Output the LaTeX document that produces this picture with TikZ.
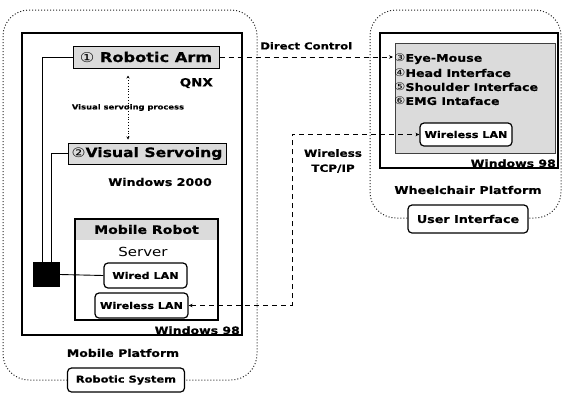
\documentclass[tikz,border=0pt]{standalone}
\usepackage{fontspec}
\setmainfont{DejaVu Sans}[FakeStretch=1.2,BoldFeatures={FakeBold=0.5}]
\usepackage{tikz}
\usetikzlibrary{arrows.meta, positioning, calc}

\newcommand{\fsz}[1]{\fontsize{#1}{#1}\selectfont}

\begin{document}
\begin{tikzpicture}[x=1pt,y=-1pt]
\tikzset{
  grp/.style={draw=black!85,dotted,line width=1pt,rounded corners=26pt,inner sep=0pt},
  pf/.style={draw,line width=1.2pt,inner sep=0pt},
  gb/.style={draw,line width=1pt,fill=black!14,inner sep=0pt},
  lan/.style={draw,line width=1.2pt,rounded corners=4pt,fill=white,inner sep=0pt,font=\bfseries\fsz{9.3}},
  tg/.style={draw,line width=1.2pt,rounded corners=4pt,fill=white,inner sep=0pt,font=\bfseries\fsz{10}},
  ln/.style={line width=0.9pt},
  dl/.style={line width=0.8pt,dash pattern=on 5pt off 4pt},
  tip/.style={-{Stealth[length=4pt,width=3.5pt]}},
  lb/.style={inner sep=1pt,font=\bfseries\fsz{#1}}
}
\useasboundingbox (0,0) rectangle (562,392);

% robotic system (left)
\node[grp,minimum width=254,minimum height=370] (rs) at (130,195) {};
\node[pf,minimum width=220,minimum height=302] (mp) at (132,184) {};
\node[gb,minimum width=146,minimum height=22,font=\bfseries\fsz{13.5}] (arm) at (146,57) {{\mdseries ①} Robotic Arm};
\node[lb=11.2,anchor=east] (qnx) at (214,83) {QNX};
\node[gb,minimum width=158,minimum height=21,font=\bfseries\fsz{13}] (vs) at (147,153.5) {{\mdseries ②}Visual Servoing};
\node[lb=10.5,anchor=east] (w2k) at (213,182) {Windows 2000};
\node[fill=black!14,minimum width=143,minimum height=21,inner sep=0pt,font=\bfseries\fsz{11.7}] (mrh) at (146.5,229.5) {Mobile Robot};
\node[pf,minimum width=143,minimum height=101] (mr) at (146.5,269.5) {};
\node[inner sep=1pt,font=\fsz{12.5}] (srv) at (143,252) {Server};
\node[lan,minimum width=83,minimum height=25] (wired) at (145.5,275.5) {Wired LAN};
\node[lan,minimum width=93,minimum height=25] (wlanL) at (141.5,305.5) {Wireless LAN};
\node[lb=10.4,anchor=south east] (w98l) at (241,335.5) {Windows 98};
\node[fill=black,minimum width=27,minimum height=25,inner sep=0pt] (sq) at (46.5,274.5) {};
\node[lb=10.4] (mplab) at (123,353) {Mobile Platform};
\node[tg,minimum width=117,minimum height=24,font=\bfseries\fsz{9.5}] (rsys) at (126,380) {Robotic System};

\draw[ln] (arm.west) -| ([xshift=-4.5pt]sq.north);
\draw[ln] (vs.west) -| ([xshift=4.5pt]sq.north);
\draw[ln] (sq.east) -- (wired.west);
\draw[line width=0.8pt,dotted,{Stealth[length=3pt,width=3pt]}-{Stealth[length=3pt,width=3pt]}]
  ([xshift=-18pt,yshift=-7pt]arm.south) -- node[lb=7]{Visual servoing process} ([xshift=-19pt,yshift=3pt]vs.north);

% wheelchair platform (right)
\node[grp,minimum width=191,minimum height=208] (wc) at (465.5,114) {};
\node[pf,minimum width=178,minimum height=135] (wp) at (469,100.5) {};
\node[gb,draw=black!75,line width=0.6pt,minimum width=160,minimum height=110] (ifc) at (475,98) {};
\node[lb=10.5,anchor=west] (em1) at (393,59) {{\mdseries ③}Eye-Mouse};
\node[lb=10.5,anchor=west] (em2) at (393,73) {{\mdseries ④}Head Interface};
\node[lb=10.5,anchor=west] (em3) at (393,87) {{\mdseries ⑤}Shoulder Interface};
\node[lb=10.5,anchor=west] (em4) at (393,101) {{\mdseries ⑥}EMG Intaface};
\node[lan,minimum width=92,minimum height=23] (wlanR) at (466,134.5) {Wireless LAN};
\node[lb=10.4,anchor=south east] (w98r) at (557,168.5) {Windows 98};
\node[lb=10.6] (wclab) at (468,190) {Wheelchair Platform};
\node[tg,minimum width=120,minimum height=28,font=\bfseries\fsz{10.6}] (ui) at (468,219) {User Interface};

% links between the two sides
\draw[dl,tip] (arm.east) -- node[lb=9.7,above=6pt]{Direct Control} (arm.east -| em1.west);
\coordinate (bend) at (292,134.5);
\draw[dl,{Stealth[length=4pt,width=3.5pt]}-{Stealth[length=4pt,width=3.5pt]}] (wlanL.east) -| (bend) -- (wlanR.west);
\node[lb=10,align=center] (tcp) at (333,161) {Wireless\\[5pt]TCP/IP};
\end{tikzpicture}
\end{document}
